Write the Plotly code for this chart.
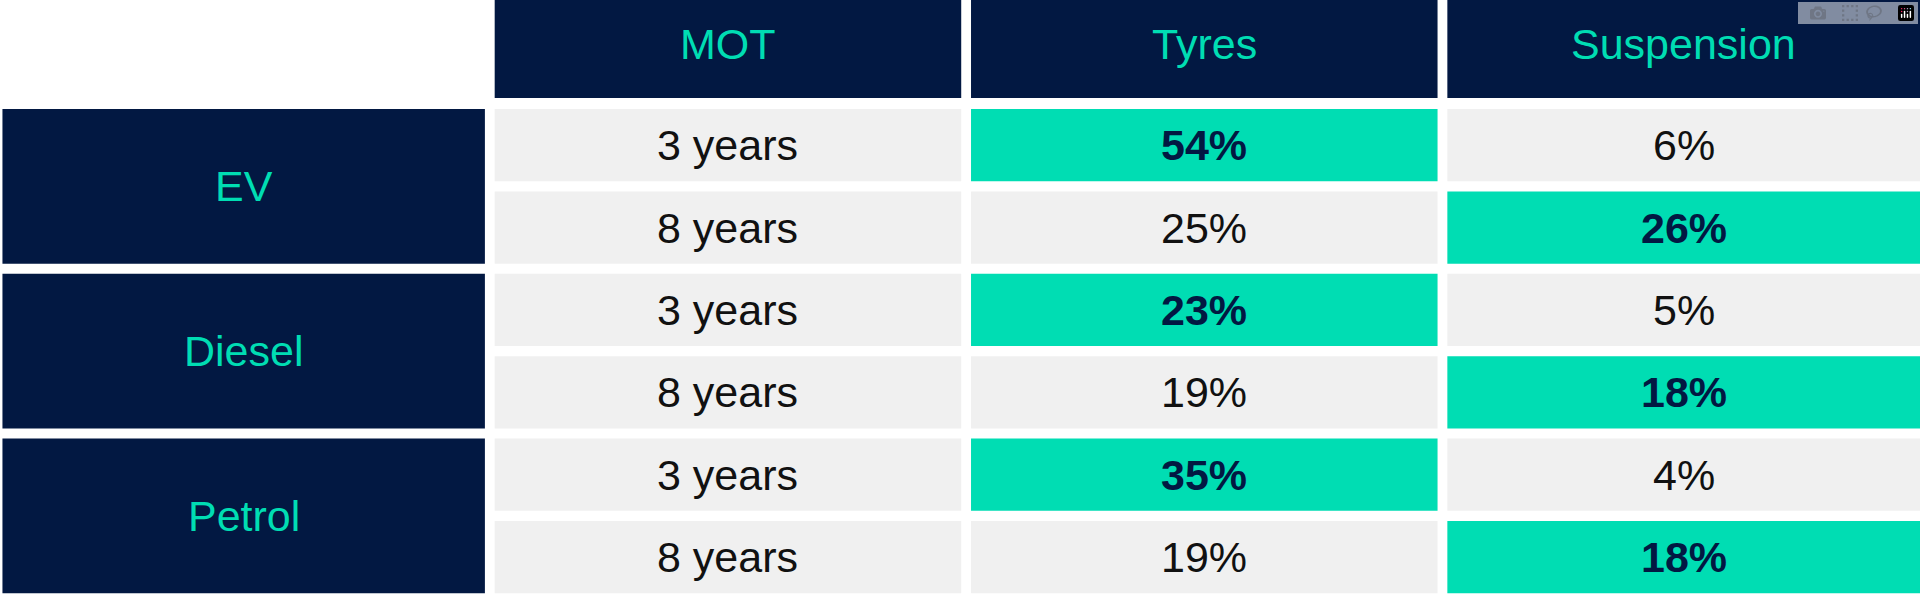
import plotly.graph_objects as go

# data
columns = ["MOT", "Tyres", "Suspension"]
groups = ["EV", "Diesel", "Petrol"]
ages = ["3 years", "8 years"]
tyres = ["54%", "25%", "23%", "19%", "35%", "19%"]
suspension = ["6%", "26%", "5%", "18%", "4%", "18%"]
highlight = ["Tyres", "Suspension", "Tyres", "Suspension", "Tyres", "Suspension"]

NAVY = "#021842"
TEAL = "#00DDB3"
GREY = "#F0F0F0"
FONT = "Liberation Sans"

W, H = 1568, 490
col_x = [(404, 785), (793, 1174), (1182, 1568)]
label_x = (2, 396)
head_y = (0, 80)
row_top0, pitch, row_h = 89, 67.3, 59

fig = go.Figure()
shapes, annos = [], []

def rect(x0, x1, y0, y1, color):
    shapes.append(dict(type="rect", xref="x", yref="y", x0=x0, x1=x1, y0=y0, y1=y1,
                       fillcolor=color, line=dict(width=0), layer="below"))

def text(x, y, s, color, bold=False):
    annos.append(dict(x=x, y=y, xref="x", yref="y", text="<b>%s</b>" % s if bold else s,
                      showarrow=False, font=dict(family=FONT, size=43, color=color)))

# header
for (x0, x1), c in zip(col_x, columns):
    rect(x0, x1, *head_y, NAVY)
    text((x0 + x1) / 2, 36, c, TEAL)

# body
rows = [(g, a) for g in groups for a in ages]
for i, (g, a) in enumerate(rows):
    y0 = row_top0 + i * pitch
    y1 = y0 + row_h
    vals = [a, tyres[i], suspension[i]]
    for (x0, x1), c, v in zip(col_x, columns, vals):
        hi = c == highlight[i]
        rect(x0, x1, y0, y1, TEAL if hi else GREY)
        text((x0 + x1) / 2, (y0 + y1) / 2, v, NAVY if hi else "#111111", bold=hi)

for j, g in enumerate(groups):
    y0 = row_top0 + 2 * j * pitch
    y1 = y0 + pitch + row_h
    rect(label_x[0], label_x[1], y0, y1, NAVY)
    text((label_x[0] + label_x[1]) / 2, (y0 + y1) / 2, g, TEAL)

fig.add_trace(go.Scatter(x=[0, W], y=[0, H], mode="markers", marker=dict(opacity=0),
                         hoverinfo="skip", showlegend=False))
fig.update_layout(shapes=shapes, annotations=annos, margin=dict(l=0, r=0, t=0, b=0),
                  paper_bgcolor="white", plot_bgcolor="white",
                  xaxis=dict(range=[0, W], visible=False, fixedrange=True),
                  yaxis=dict(range=[H, 0], visible=False, fixedrange=True))
# drop the default page margin so the table fills the window
fig.write_html("out.html", post_script="document.body.style.margin='0';"
               "var d=document.getElementById('{plot_id}');d.style.height='100vh';"
               "Plotly.Plots.resize(d);")
